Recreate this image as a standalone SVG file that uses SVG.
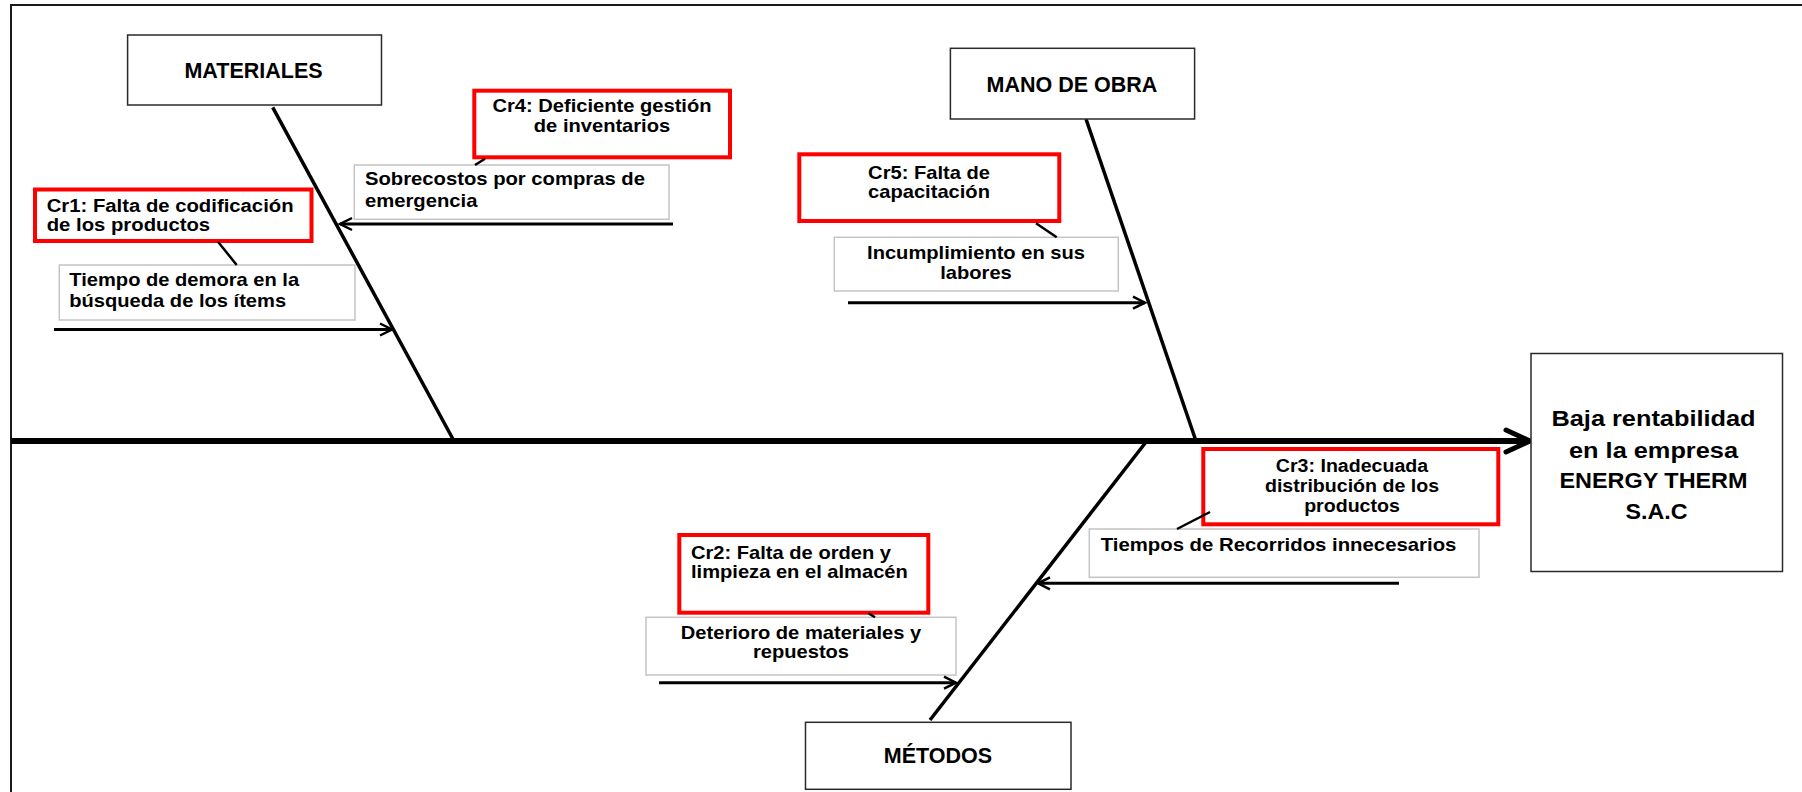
<svg xmlns="http://www.w3.org/2000/svg" width="1802" height="792" viewBox="0 0 1802 792">
<defs>
<marker id="ah" markerUnits="userSpaceOnUse" markerWidth="16" markerHeight="16" refX="12" refY="6" orient="auto" overflow="visible">
<path d="M0,0 L12,6 L0,12" fill="none" stroke="#000" stroke-width="2.5"/>
</marker>
<marker id="ahBig" markerUnits="userSpaceOnUse" markerWidth="30" markerHeight="30" refX="24" refY="11" orient="auto" overflow="visible">
<path d="M0,0 L24,11 L0,22" fill="none" stroke="#000" stroke-width="5" stroke-linejoin="round" stroke-linecap="round"/>
</marker>
<style>
.cat{fill:#fff;stroke:#2a2a2a;stroke-width:1.5}
.red{fill:#fff;stroke:#ff0000;stroke-width:4}
.eff{fill:#fff;stroke:#c4c4c4;stroke-width:1.5}
.t{font-family:"Liberation Sans",Arial,sans-serif;font-weight:bold;font-size:17.5px;fill:#000}
.h{font-family:"Liberation Sans",Arial,sans-serif;font-weight:bold;font-size:21.5px;fill:#000}
.bone{stroke:#000;stroke-width:3.5;fill:none}
.arr{stroke:#000;stroke-width:3;fill:none;marker-end:url(#ah)}
.link{stroke:#000;stroke-width:2.5;fill:none}
.frame{stroke:#1a1a1a;stroke-width:2;fill:none}
</style>
</defs>

<g id="frame">
<path class="frame" d="M11,792 L11,5 L1802,5"/>
</g>

<g id="bones">
<line x1="11" y1="441" x2="1530" y2="441" stroke="#000" stroke-width="6" marker-end="url(#ahBig)"/>
<line class="bone" x1="272.7" y1="107.3" x2="454" y2="441"/>
<line class="bone" x1="1086" y1="119" x2="1196" y2="441"/>
<line class="bone" x1="930" y1="720" x2="1146" y2="442"/>
</g>

<g id="materiales">
<rect class="cat" x="127.6" y="35" width="253.9" height="70"/>
<text class="h" x="253.5" y="78.3" text-anchor="middle">MATERIALES</text>
</g>
<g id="mano-de-obra">
<rect class="cat" x="950.4" y="48.3" width="244.2" height="70.7"/>
<text class="h" x="1072" y="91.7" text-anchor="middle">MANO DE OBRA</text>
</g>
<g id="metodos">
<rect class="cat" x="805.5" y="722.3" width="265.5" height="67"/>
<text class="h" x="938" y="763.3" text-anchor="middle">MÉTODOS</text>
</g>
<g id="efecto">
<rect class="cat" x="1531" y="353.5" width="251.5" height="218"/>
<text class="h" text-anchor="middle">
<tspan x="1656.5" y="425.5" textLength="204" lengthAdjust="spacingAndGlyphs">Baja rentabilidad</tspan>
<tspan x="1656.5" y="457.5" textLength="169" lengthAdjust="spacingAndGlyphs">en la empresa</tspan>
<tspan x="1656.5" y="488" textLength="188" lengthAdjust="spacingAndGlyphs">ENERGY THERM</tspan>
<tspan x="1656.5" y="518.5" textLength="62" lengthAdjust="spacingAndGlyphs">S.A.C</tspan>
</text>
</g>

<g id="cr1">
<rect class="red" x="35" y="189.5" width="276.5" height="51.5"/>
<text class="t" transform="translate(46.7,211.7) scale(1.16,1)"><tspan x="0" y="0">Cr1: Falta de codificación</tspan><tspan x="0" y="19.5">de los productos</tspan></text>
</g>
<g id="efecto-cr1">
<rect class="eff" x="59.3" y="265" width="295.7" height="55"/>
<text class="t" transform="translate(69.3,286) scale(1.15,1)"><tspan x="0" y="0">Tiempo de demora en la</tspan><tspan x="0" y="20.7">búsqueda de los ítems</tspan></text>
</g>

<g id="cr4">
<rect class="red" x="474.3" y="90.7" width="255.7" height="66.6"/>
<text class="t" text-anchor="middle" transform="translate(602,112.3) scale(1.15,1)"><tspan x="0" y="0">Cr4: Deficiente gestión</tspan><tspan x="0" y="20">de inventarios</tspan></text>
</g>
<g id="efecto-cr4">
<rect class="eff" x="354.3" y="165" width="314.7" height="54.3"/>
<text class="t" transform="translate(365,185.3) scale(1.157,1)"><tspan x="0" y="0">Sobrecostos por compras de</tspan><tspan x="0" y="21.4">emergencia</tspan></text>
</g>

<g id="cr5">
<rect class="red" x="799.3" y="154.3" width="260" height="66.7"/>
<text class="t" text-anchor="middle" transform="translate(929,178.6) scale(1.15,1)"><tspan x="0" y="0">Cr5: Falta de</tspan><tspan x="0" y="19.4">capacitación</tspan></text>
</g>
<g id="efecto-cr5">
<rect class="eff" x="834.3" y="237.3" width="284" height="53.7"/>
<text class="t" text-anchor="middle" transform="translate(976,259) scale(1.15,1)"><tspan x="0" y="0">Incumplimiento en sus</tspan><tspan x="0" y="20">labores</tspan></text>
</g>

<g id="cr3">
<rect class="red" x="1203.3" y="449" width="295" height="75.3"/>
<text class="t" text-anchor="middle" transform="translate(1352,472) scale(1.12,1)"><tspan x="0" y="0">Cr3: Inadecuada</tspan><tspan x="0" y="20.5">distribución de los</tspan><tspan x="0" y="40">productos</tspan></text>
</g>
<g id="efecto-cr3">
<rect class="eff" x="1089.3" y="529" width="389.7" height="48.3"/>
<text class="t" transform="translate(1100.7,550.7) scale(1.163,1)"><tspan x="0" y="0">Tiempos de Recorridos innecesarios</tspan></text>
</g>

<g id="cr2">
<rect class="red" x="679.3" y="535" width="249" height="77.7"/>
<text class="t" transform="translate(691,559) scale(1.15,1)"><tspan x="0" y="0">Cr2: Falta de orden y</tspan><tspan x="0" y="19.3">limpieza en el almacén</tspan></text>
</g>
<g id="efecto-cr2">
<rect class="eff" x="646" y="617.3" width="310" height="57.7"/>
<text class="t" text-anchor="middle" transform="translate(801,639.3) scale(1.15,1)"><tspan x="0" y="0">Deterioro de materiales y</tspan><tspan x="0" y="18.5">repuestos</tspan></text>
</g>

<g id="connectors">
<line class="arr" x1="54" y1="329.5" x2="392" y2="329.5"/>
<line class="arr" x1="673" y1="224" x2="340" y2="224"/>
<line class="arr" x1="848" y1="302.7" x2="1145" y2="302.7"/>
<line class="arr" x1="1399" y1="583.3" x2="1038" y2="583.3"/>
<line class="arr" x1="659" y1="682.7" x2="956" y2="682.7"/>
<line class="link" x1="218" y1="241.7" x2="236.7" y2="265"/>
<line class="link" x1="485" y1="158.7" x2="475" y2="165"/>
<line class="link" x1="1036" y1="223.3" x2="1056.7" y2="237.3"/>
<line class="link" x1="1210" y1="512" x2="1177" y2="529"/>
<line class="link" x1="868.3" y1="613.3" x2="875" y2="617.3"/>
</g>
</svg>
